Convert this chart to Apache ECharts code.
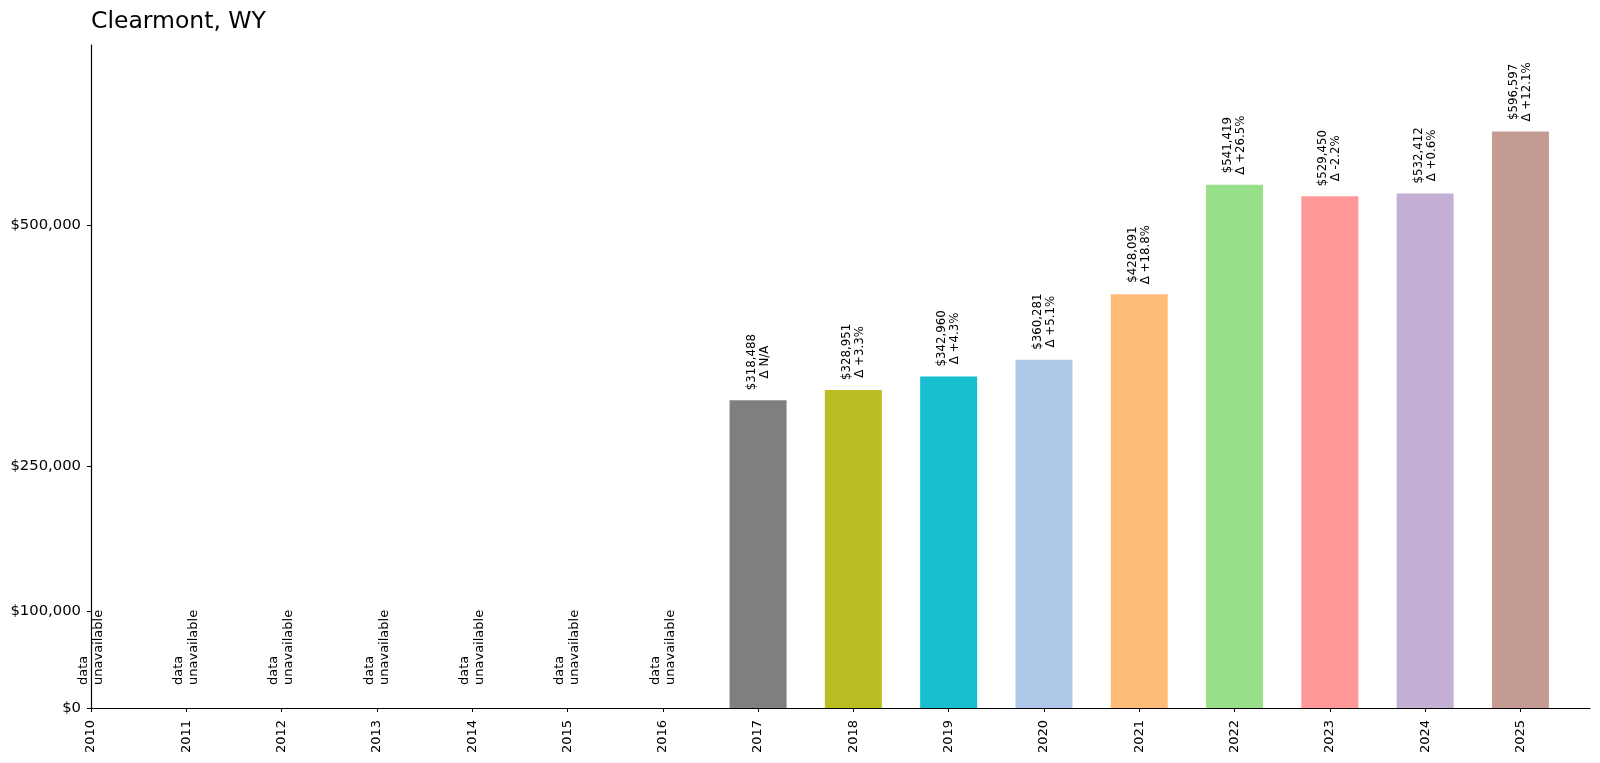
<!DOCTYPE html>
<html lang="en">
<head>
    <meta charset="UTF-8">
    <title>Clearmont, WY</title>
    <script src="https://cdn.jsdelivr.net/npm/echarts@6/dist/echarts.min.js"></script>
    <style>
        html, body { margin: 0; padding: 0; background: #fff; }
        #main { width: 1600px; height: 763px; }
    </style>
</head>
<body>
<div id="main"></div>
<script>
    // years on the axis
    var years = [2010, 2011, 2012, 2013, 2014, 2015, 2016, 2017, 2018, 2019, 2020, 2021, 2022, 2023, 2024, 2025];
    // years with no value
    var missingYears = [2010, 2011, 2012, 2013, 2014, 2015, 2016];
    // years with a value, and the values
    var valueYears = [2017, 2018, 2019, 2020, 2021, 2022, 2023, 2024, 2025];
    var values = [318488, 328951, 342960, 360281, 428091, 541419, 529450, 532412, 596597];
    var changes = ['N/A', '+3.3%', '+4.3%', '+5.1%', '+18.8%', '+26.5%', '-2.2%', '+0.6%', '+12.1%'];
    var barColors = ['#7f7f7f', '#bcbd22', '#17becf', '#aec7e8', '#ffbb78', '#98df8a', '#ff9896', '#c5b0d5', '#c49c94'];
    var yTicks = [0, 100000, 250000, 500000];

    var font = 'DejaVu Sans';
    var myChart = echarts.init(document.getElementById('main'));

    function money(v) {
        return '$' + v.toString().replace(/\B(?=(\d{3})+(?!\d))/g, ',');
    }

    var barData = valueYears.map(function (y, i) {
        return {
            value: [y, values[i]],
            itemStyle: { color: barColors[i] },
            label: {
                formatter: '{a|' + money(values[i]) + '}\n{a|\u0394 ' + changes[i] + '}'
            }
        };
    });

    var option = {
        backgroundColor: '#fff',
        animation: false,
        title: {
            text: 'Clearmont, WY',
            left: 86,
            top: 5,
            textStyle: { fontFamily: font, fontSize: 23.5, fontWeight: 'normal', color: '#000' }
        },
        grid: { left: 91, right: 10, top: 45, bottom: 55, containLabel: false },
        xAxis: {
            type: 'value',
            min: 2010,
            max: 2025.73,
            interval: 1,
            splitLine: { show: false },
            axisLine: { lineStyle: { color: '#000', width: 1.2 } },
            axisTick: { show: true, length: 4, lineStyle: { color: '#000' }, customValues: years },
            axisLabel: {
                customValues: years,
                rotate: 90,
                margin: 12,
                color: '#000',
                fontFamily: font,
                fontSize: 13,
                formatter: function (v) { return String(v); }
            }
        },
        yAxis: {
            type: 'value',
            min: 0,
            max: 686086,
            splitLine: { show: false },
            axisLine: { show: true, lineStyle: { color: '#000', width: 1.2 } },
            axisTick: { show: true, length: 4, lineStyle: { color: '#000' }, customValues: yTicks },
            axisLabel: {
                customValues: yTicks,
                margin: 10,
                color: '#000',
                fontFamily: font,
                fontSize: 14.8,
                formatter: function (v) { return money(v); }
            }
        },
        series: [
            {
                type: 'bar',
                barWidth: 57,
                data: barData,
                label: {
                    show: true,
                    position: 'top',
                    distance: 10,
                    rotate: 90,
                    align: 'left',
                    verticalAlign: 'middle',
                    color: '#000',
                    fontFamily: font,
                    fontSize: 11.8,
                    lineHeight: 13,
                    rich: {
                        a: { align: 'center', fontFamily: font, fontSize: 11.8, lineHeight: 13, color: '#000' }
                    }
                }
            },
            {
                // "data unavailable" notes for empty years
                type: 'scatter',
                symbolSize: 0,
                itemStyle: { opacity: 1 },
                data: missingYears.map(function (y) { return [y, 0]; }),
                label: {
                    show: true,
                    position: 'top',
                    distance: 23,
                    rotate: 90,
                    align: 'left',
                    verticalAlign: 'middle',
                    color: '#000',
                    fontFamily: font,
                    fontSize: 13,
                    lineHeight: 15,
                    formatter: 'data\nunavailable'
                }
            }
        ]
    };

    myChart.setOption(option);
</script>
</body>
</html>
